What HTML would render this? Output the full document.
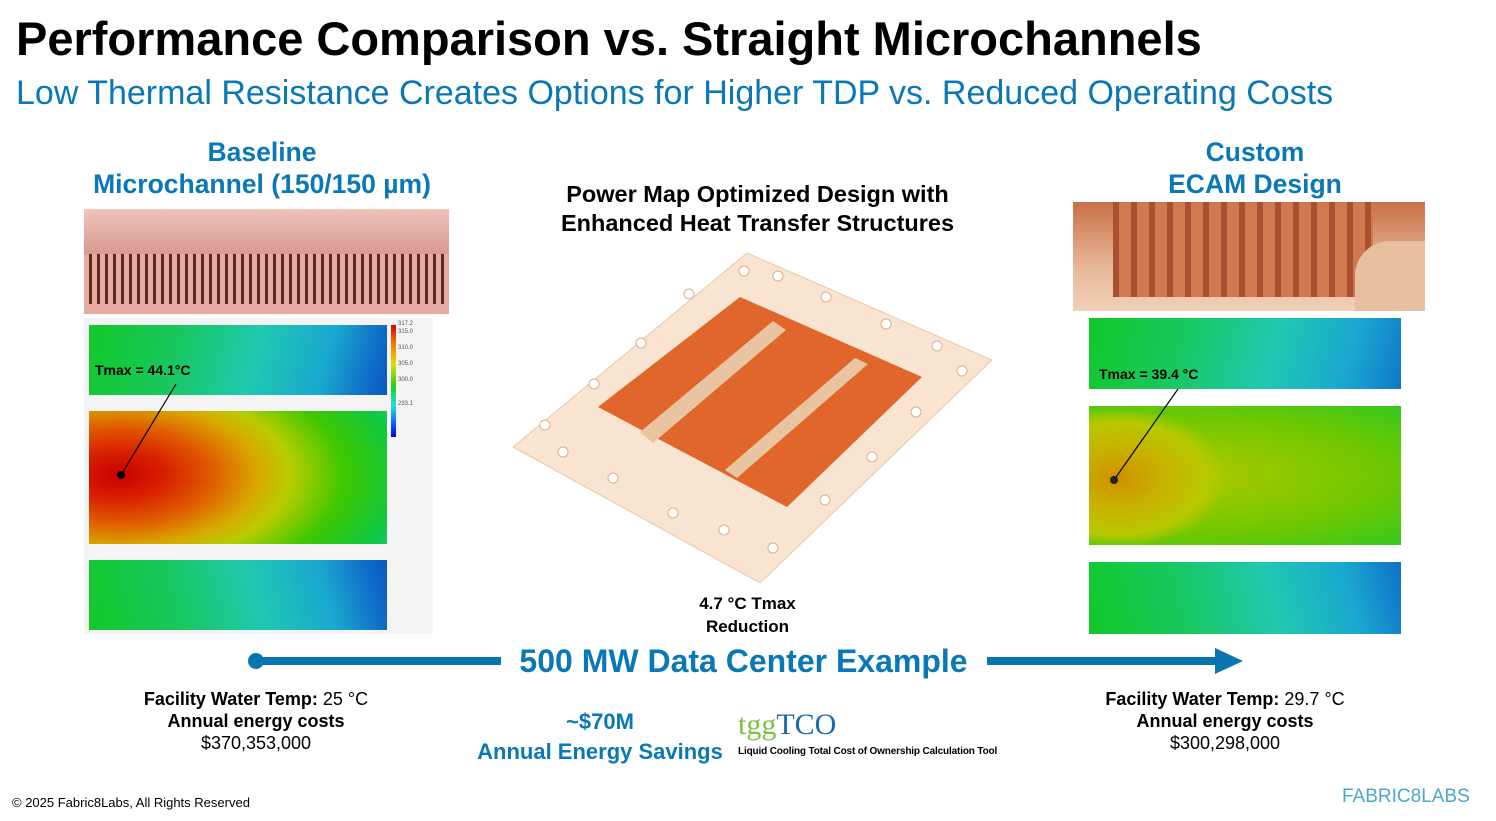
<!DOCTYPE html>
<html><head><meta charset="utf-8"><style>
body{margin:0;width:1496px;height:821px;background:#fff;position:relative;overflow:hidden;font-family:"Liberation Sans",Arial,sans-serif}
.a{position:absolute}
.c{text-align:center}
.blue{color:#0a78b6}
.b{font-weight:bold}
</style></head><body>
<div class="a b" style="left:16px;top:11px;font-size:47px;color:#000">Performance Comparison vs. Straight Microchannels</div>
<div class="a blue" style="left:16px;top:74px;font-size:34px">Low Thermal Resistance Creates Options for Higher TDP vs. Reduced Operating Costs</div>

<div class="a c b blue" style="left:52px;width:420px;top:136px;font-size:26.5px;line-height:32px">Baseline<br>Microchannel (150/150 µm)</div>
<div class="a" style="left:84px;top:209px;width:365px;height:105px;background:repeating-linear-gradient(90deg,#e9a8a0 0 5px,#5a2a24 5px 8px);"><div style="position:absolute;left:0;top:0;right:0;height:45px;background:linear-gradient(#f0c4bc,#d89890)"></div><div style="position:absolute;left:0;bottom:0;right:0;height:10px;background:#e6aaa2"></div></div>
<div class="a" style="left:84px;top:318px;width:349px;height:316px;background:#f4f4f4"></div>
<div class="a" style="left:89px;top:325px;width:298px;height:70px;background:linear-gradient(105deg,#12c828 0%,#18c860 30%,#20c8b0 55%,#1aa8d0 78%,#1070c8 92%,#0a58c0 100%)"></div>
<div class="a" style="left:89px;top:411px;width:298px;height:133px;background:radial-gradient(ellipse 330px 170px at 10% 48%,#c80000 0%,#d82000 14%,#e05a00 28%,#d8a800 42%,#b8cc00 52%,#40c800 68%,#10c840 85%,#20c8a0 100%)"></div>
<div class="a" style="left:89px;top:560px;width:298px;height:70px;background:linear-gradient(75deg,#12c828 0%,#18c860 30%,#20c8b0 55%,#1aa8d0 78%,#1070c8 92%,#0a58c0 100%)"></div>
<div class="a" style="left:391px;top:325px;width:5px;height:112px;background:linear-gradient(#e00000,#f07000 15%,#e0e000 35%,#20d020 55%,#20e0e0 72%,#1060ff 88%,#0000e0)"></div>
<div class="a" style="left:398px;top:320px;font-size:6px;color:#555;line-height:8px">317.2<br>315.0<br><br>310.0<br><br>305.0<br><br>300.0<br><br><br>293.1</div>

<div class="a" style="left:1073px;top:202px;width:352px;height:109px;background:linear-gradient(#c87048,#e8b898 60%,#f0d0b8);"><div style="position:absolute;left:40px;top:0;width:260px;height:95px;background:repeating-linear-gradient(90deg,#a85030 0 6px,#d07850 6px 18px)"></div><div style="position:absolute;right:0;bottom:0;width:70px;height:70px;background:#e8c0a0;border-radius:50% 0 0 0"></div></div>
<div class="a" style="left:1089px;top:318px;width:312px;height:71px;background:linear-gradient(105deg,#12c828 0%,#18c860 30%,#20c8b0 58%,#1aa8d0 82%,#1078c8 100%)"></div>
<div class="a" style="left:1089px;top:406px;width:312px;height:139px;background:radial-gradient(ellipse 110px 70px at 9% 52%,#d09000 0%,#c8b000 40%,#b8c800 80%,transparent 100%),radial-gradient(ellipse 440px 130px at 30% 50%,#b0c800 0%,#70c800 45%,#30c820 75%,#20c870 100%)"></div>
<div class="a" style="left:1089px;top:562px;width:312px;height:72px;background:linear-gradient(75deg,#12c828 0%,#18c860 30%,#20c8b0 58%,#1aa8d0 82%,#1070c8 100%)"></div>

<div class="a b" style="left:95px;top:362px;font-size:14px">Tmax = 44.1°C</div>
<div class="a b" style="left:1099px;top:366px;font-size:14px">Tmax = 39.4 °C</div>
<svg class="a" style="left:0;top:0" width="1496" height="821">
<line x1="176" y1="384" x2="121" y2="475" stroke="#000" stroke-width="1.2"/><circle cx="121" cy="475" r="4" fill="#000"/>
<line x1="1178" y1="389" x2="1114" y2="480" stroke="#000" stroke-width="1.2"/><circle cx="1114" cy="480" r="4" fill="#222"/>
</svg>

<div class="a c b" style="left:500px;width:515px;top:180px;font-size:23.5px;line-height:29px">Power Map Optimized Design with<br>Enhanced Heat Transfer Structures</div>
<svg class="a" style="left:0;top:0" width="1496" height="821">
<polygon points="747,253 992,360 760,583 513,447" fill="#f8e4d0" stroke="#e8c8a8"/>
<polygon points="598,407 740,297 922,377 787,507" fill="#e0662c"/>
<polygon points="640,432 773,321 786,330 653,443" fill="#e8c4a0"/>
<polygon points="725,470 855,358 868,364 737,478" fill="#e8c4a0"/>
<g fill="#fff" stroke="#d8b090">
<circle cx="744" cy="271" r="5"/><circle cx="778" cy="276" r="5"/><circle cx="826" cy="297" r="5"/><circle cx="886" cy="324" r="5"/><circle cx="937" cy="346" r="5"/><circle cx="962" cy="371" r="5"/>
<circle cx="689" cy="294" r="5"/><circle cx="641" cy="343" r="5"/><circle cx="594" cy="384" r="5"/><circle cx="545" cy="425" r="5"/><circle cx="563" cy="452" r="5"/><circle cx="613" cy="478" r="5"/>
<circle cx="673" cy="513" r="5"/><circle cx="724" cy="530" r="5"/><circle cx="773" cy="548" r="5"/><circle cx="825" cy="500" r="5"/><circle cx="872" cy="457" r="5"/><circle cx="916" cy="412" r="5"/>
</g></svg>
<div class="a c b" style="left:660px;width:175px;top:592px;font-size:17px;line-height:23px">4.7 °C Tmax<br>Reduction</div>

<div class="a c b blue" style="left:1055px;width:400px;top:136px;font-size:26.5px;line-height:32px">Custom<br>ECAM Design</div>

<svg class="a" style="left:0;top:0" width="1496" height="821">
<circle cx="256" cy="661" r="8" fill="#0a74b0"/><rect x="256" y="657" width="245" height="8" fill="#0a74b0"/>
<rect x="987" y="657" width="230" height="8" fill="#0a74b0"/><polygon points="1215,648 1243,661 1215,674" fill="#0a74b0"/>
</svg>
<div class="a c b blue" style="left:490px;width:507px;top:643px;font-size:32px">500 MW Data Center Example</div>

<div class="a c" style="left:106px;width:300px;top:688px;font-size:18px;line-height:22px"><b>Facility Water Temp:</b> 25 °C<br><b>Annual energy costs</b><br>$370,353,000</div>
<div class="a c" style="left:1075px;width:300px;top:688px;font-size:18px;line-height:22px"><b>Facility Water Temp:</b> 29.7 °C<br><b>Annual energy costs</b><br>$300,298,000</div>
<div class="a c b blue" style="left:470px;width:260px;top:707px;font-size:22px;line-height:30px">~$70M<br>Annual Energy Savings</div>
<div class="a" style="left:738px;top:708px;font-size:30px;line-height:34px;font-family:'Liberation Serif',serif"><span style="color:#7cc242">tgg</span><span style="color:#1a6ab0">TCO</span></div>
<div class="a b" style="left:738px;top:746px;font-size:10px;letter-spacing:-0.15px">Liquid Cooling Total Cost of Ownership Calculation Tool</div>

<div class="a" style="left:12px;top:795px;font-size:13px">© 2025 Fabric8Labs, All Rights Reserved</div>
<div class="a" style="left:1342px;top:786px;font-size:19px;color:#4aa8c8;letter-spacing:0px">FABRIC8LABS</div>
</body></html>
